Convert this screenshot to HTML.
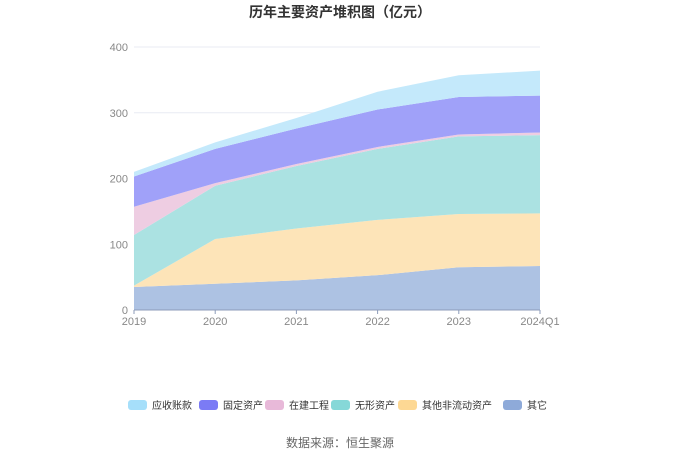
<!DOCTYPE html>
<html><head><meta charset="utf-8"><style>
body{margin:0;background:#fff;font-family:"Liberation Sans","Noto Sans CJK SC",sans-serif;}
svg text{font-family:"Liberation Sans","Noto Sans CJK SC",sans-serif;}
</style></head><body>
<svg id="c" width="680" height="460">
<text x="340" y="17" text-anchor="middle" font-size="14" font-weight="bold" fill="#333">历年主要资产堆积图（亿元）</text>
<g id="grid"></g><g id="areas"></g><g id="axes"></g><g id="legend"></g>
<text x="340" y="447" text-anchor="middle" font-size="12" fill="#666">数据来源：恒生聚源</text>
</svg>
<script>
const categories=["2019","2020","2021","2022","2023","2024Q1"];
const yTicks=[0,100,200,300,400];
const seriesNames=["其它","其他非流动资产","无形资产","在建工程","固定资产","应收账款"];
const other=[35,40,45,53,65,67];
const otherNonCurrent=[2,68,79,84,81,80];
const intangible=[77,81,95,108,118,119];
const construction=[43,4,3,3,3,4];
const fixedAssets=[46,52,54,57,57,56];
const receivables=[7,10,16,27,33,38];
const seriesVals=[other,otherNonCurrent,intangible,construction,fixedAssets,receivables];
const fills=["#adc2e3","#fde4b8","#abe2e2","#eecde2","#a0a1f9","#c4e9fb"];
const legendColors=["#a6dffa","#7b7bf5","#e8b9d9","#86d8d8","#fdd894","#8eaad9"];
const legendNames=["应收账款","固定资产","在建工程","无形资产","其他非流动资产","其它"];
const ns="http://www.w3.org/2000/svg";
const X0=134,X1=540,Y0=310,Y1=47;
const x=i=>X0+(X1-X0)*i/(categories.length-1);
const y=v=>Y0-(Y0-Y1)*v/400;
function mk(t,a,p){const e=document.createElementNS(ns,t);for(const k in a)e.setAttribute(k,a[k]);p.appendChild(e);return e;}
const grid=document.getElementById('grid');
yTicks.forEach(v=>{
 const l=mk('line',{x1:X0,x2:X1,y1:y(v),y2:y(v),stroke:v?"#e8ebf3":"#8c9bb8"},grid);
 
 
 const t=mk('text',{x:X0-6,y:y(v)+4,'text-anchor':'end','font-size':11,fill:'#888'},grid);
 t.textContent=v;
 
 
});
const areas=document.getElementById('areas');
let base=categories.map(()=>0);
seriesVals.forEach((vals,s)=>{
 const top=vals.map((v,i)=>base[i]+v);
 let d="M"+top.map((v,i)=>x(i)+","+y(v)).join("L");
 for(let i=categories.length-1;i>=0;i--)d+="L"+x(i)+","+y(base[i]);
 const p=mk('path',{d:d+"Z",fill:fills[s]},areas);
 
 
 base=top;
});
const axes=document.getElementById('axes');
const ax=mk('line',{x1:X0,x2:X1,y1:Y0,y2:Y0,stroke:'#8c9bb8'},axes);


categories.forEach((c,i)=>{
 mk('line',{x1:x(i),x2:x(i),y1:Y0,y2:Y0+4,stroke:'#8c9bb8'},axes);
 const t=mk('text',{x:x(i),y:Y0+15,'text-anchor':'middle','font-size':11,fill:'#888'},axes);
 t.textContent=c;
 
 
});
const lg=document.getElementById('legend');
const lx=[128,199,265,331,398,503];
legendNames.forEach((n,i)=>{
 const g=mk('g',{},lg);
 
 
 mk('rect',{x:lx[i],y:400,width:19,height:10,rx:3,fill:legendColors[i]},g);
 const t=mk('text',{x:lx[i]+24,y:409,'font-size':10,fill:'#333'},g);
 t.textContent=n;
});
</script>
</body></html>
